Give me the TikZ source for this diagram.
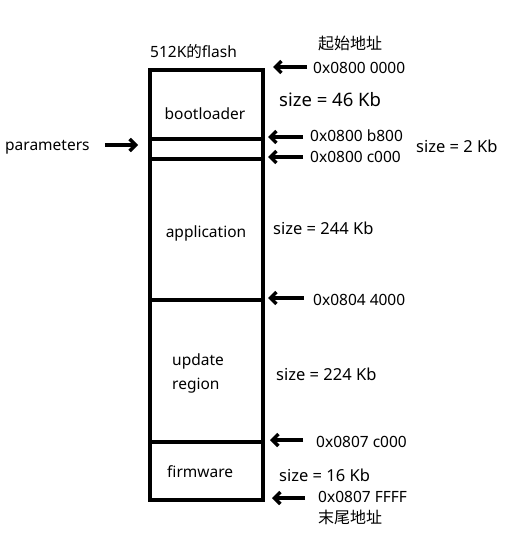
\documentclass[tikz,border=0pt]{standalone}
\usepackage{fontspec}
\setmainfont{Noto Sans}
\newfontfamily\cjk{Noto Sans CJK SC}
\usetikzlibrary{arrows.meta}
\begin{document}
\begin{tikzpicture}[x=1pt,y=-1pt,
  region/.style={draw=black,line width=3.6pt,minimum width=113pt,inner sep=0pt,anchor=north west},
  lbl/.style={inner sep=0pt,yshift=-1.5pt,font=\fontsize{15.5}{18}\selectfont,text height=1.6ex,text depth=0.3ex},
  sz/.style={lbl,anchor=west,font=\fontsize{16.5}{19}\selectfont},
  arr/.style={line width=3.4pt,-{Straight Barb[length=6pt,width=12pt]}}]
\useasboundingbox[fill=white] (0,0) rectangle (505,543);
% regions
\node[region,minimum height=69pt] (boot) at (148,68) {};
\node[region,minimum height=20pt] (par) at (148,137) {};
\node[region,minimum height=141pt] (app) at (148,157) {};
\node[region,minimum height=142pt] (upd) at (148,298) {};
\node[region,minimum height=58pt] (fw) at (148,440) {};
% labels inside
\node[lbl] (tboot) at (205,115) {bootloader};
\node[lbl,anchor=west,align=left] (tupd) at (172,385) {update\\[6pt]region};
\node[lbl] (tapp) at (206,233) {application};
\node[lbl,anchor=west] (tfw) at (167,473) {firmware};
\node[lbl,anchor=west] (tflash) at (150,53) {512K{\cjk 的}flash};
\node[lbl,anchor=west] (tpar) at (5,146) {parameters};
% sizes
\node[sz,font=\fontsize{18.5}{21}\selectfont] (s1) at (279,102) {size = 46 Kb};
\node[sz] (s2) at (416,148) {size = 2 Kb};
\node[sz] (s3) at (273,230) {size = 244 Kb};
\node[sz] (s4) at (276,376) {size = 224 Kb};
\node[sz] (s5) at (279,477) {size = 16 Kb};
% addresses
\node[lbl,anchor=west,font=\cjk\fontsize{16}{18}\selectfont] (c1) at (318,45) {起始地址};
\node[lbl,anchor=west] (a1) at (313,69) {0x0800 0000};
\node[lbl,anchor=west] (a2) at (310,137) {0x0800 b800};
\node[lbl,anchor=west] (a3) at (310,158) {0x0800 c000};
\node[lbl,anchor=west] (a4) at (313,301) {0x0804 4000};
\node[lbl,anchor=west] (a5) at (316,443) {0x0807 c000};
\node[lbl,anchor=west] (a6) at (318,498) {0x0807 FFFF};
\node[lbl,anchor=west,font=\cjk\fontsize{16}{18}\selectfont] (c2) at (318,519) {末尾地址};
% arrow targets
\coordinate (p1) at (273,67);
\coordinate (p2) at (268,137);
\coordinate (p3) at (268,157);
\coordinate (p4) at (268,298);
\coordinate (p5) at (270,440);
\coordinate (p6) at (272,498);
\coordinate (pp) at (138,145);
\draw[arr] ([xshift=-6pt]a1.west |- p1) -- (p1);
\draw[arr] ([xshift=-7pt]a2.west |- p2) -- (p2);
\draw[arr] ([xshift=-7pt]a3.west |- p3) -- (p3);
\draw[arr] ([xshift=-9pt]a4.west |- p4) -- (p4);
\draw[arr] ([xshift=-13pt]a5.west |- p5) -- (p5);
\draw[arr] ([xshift=-13pt]a6.west |- p6) -- (p6);
\draw[arr] ([xshift=15pt]tpar.east |- pp) -- (pp);
\end{tikzpicture}
\end{document}
